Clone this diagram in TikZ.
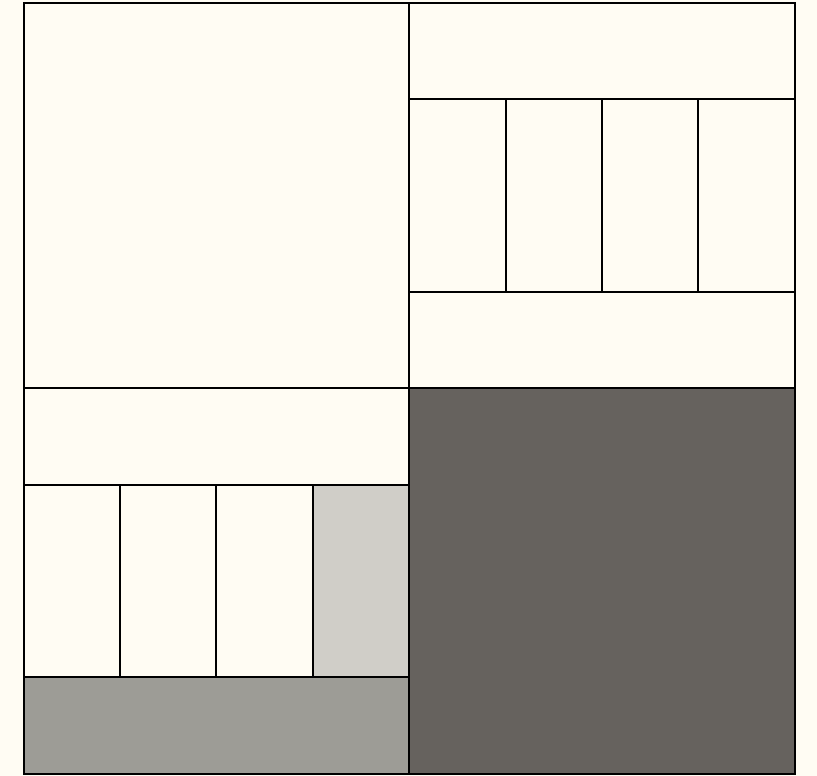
\documentclass[tikz,border=0pt]{standalone}
\definecolor{cream}{HTML}{FFFCF3}
\definecolor{darkg}{HTML}{66625E}
\definecolor{lightg}{HTML}{D0CEC8}
\definecolor{midg}{HTML}{9D9C96}
\begin{document}
\begin{tikzpicture}[x=1pt,y=-1pt,cell/.style={draw=black,line width=2.6pt}]
\fill[cream] (0,0) rectangle (817,776);
\useasboundingbox (0,0) rectangle (817,776);
% top-left
\draw[cell,fill=cream] (24,3) rectangle (409,388);
% top-right
\draw[cell,fill=cream] (409,3) rectangle (795,99);
\draw[cell,fill=cream] (409,99) rectangle (506,292);
\draw[cell,fill=cream] (506,99) rectangle (602,292);
\draw[cell,fill=cream] (602,99) rectangle (698,292);
\draw[cell,fill=cream] (698,99) rectangle (795,292);
\draw[cell,fill=cream] (409,292) rectangle (795,388);
% bottom-left
\draw[cell,fill=cream] (24,388) rectangle (409,485);
\draw[cell,fill=cream] (24,485) rectangle (120,677);
\draw[cell,fill=cream] (120,485) rectangle (216,677);
\draw[cell,fill=cream] (216,485) rectangle (313,677);
\draw[cell,fill=lightg] (313,485) rectangle (409,677);
\draw[cell,fill=midg] (24,677) rectangle (409,774);
% bottom-right
\draw[cell,fill=darkg] (409,388) rectangle (795,774);
\end{tikzpicture}
\end{document}
